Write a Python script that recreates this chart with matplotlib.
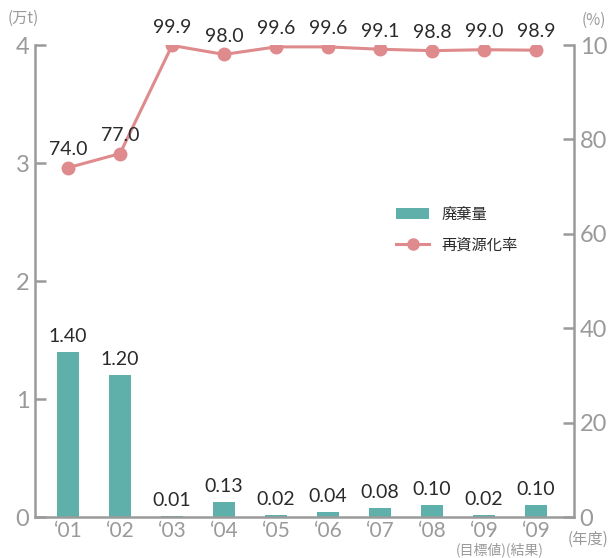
import matplotlib
matplotlib.use("Agg")
import matplotlib.pyplot as plt
from matplotlib.lines import Line2D
from matplotlib.patches import Patch

plt.rcParams['font.family'] = ['Lato', 'Noto Sans CJK JP', 'DejaVu Sans']

categories = ["\u201801", "\u201802", "\u201803", "\u201804", "\u201805",
              "\u201806", "\u201807", "\u201808", "\u201809", "\u201809"]
waste = [1.40, 1.20, 0.01, 0.13, 0.02, 0.04, 0.08, 0.10, 0.02, 0.10]
waste_labels = ["1.40", "1.20", "0.01", "0.13", "0.02", "0.04", "0.08", "0.10", "0.02", "0.10"]
recycle = [74.0, 77.0, 99.9, 98.0, 99.6, 99.6, 99.1, 98.8, 99.0, 98.9]
left_ticks = [0, 1, 2, 3, 4]
right_ticks = [0, 20, 40, 60, 80, 100]

teal = "#5fb0aa"
pink = "#df8a8c"
gray = "#9a9a9a"
dark = "#2a2a2a"
cjk = ['Noto Sans CJK JP', 'DejaVu Sans']

fig = plt.figure(figsize=(6.08, 5.58), dpi=100)
ax = fig.add_axes([35/608, 41/558, (574-35)/608, (517-45)/558])
ax2 = ax.twinx()

x = list(range(len(categories)))
ax.bar(x, waste, width=0.41, color=teal, zorder=2)
ax.set_xlim(-0.635, 9.73)
ax.set_ylim(0, 4)
ax.set_yticks(left_ticks)
ax.set_xticks(x)
ax.set_xticklabels(categories)

ax2.plot(x, recycle, color=pink, lw=2.2, marker='o', ms=9, zorder=3)
ax2.set_ylim(0, 100)
ax2.set_yticks(right_ticks)

for a in (ax, ax2):
    a.spines['top'].set_visible(False)
    for s in ('left', 'right', 'bottom'):
        a.spines[s].set_color(gray)
        a.spines[s].set_linewidth(1.8)
    a.tick_params(axis='y', direction='in', length=8, width=1.8, color=gray,
                  labelcolor=gray, labelsize=17, pad=4)
    a.tick_params(axis='x', length=0, labelcolor=gray, labelsize=15, pad=3)
ax.spines['right'].set_visible(False)
ax2.spines['left'].set_visible(False)
ax2.spines['bottom'].set_visible(False)

for xi, v, lab in zip(x, waste, waste_labels):
    ax.annotate(lab, (xi, v), xytext=(0, 5), textcoords='offset points',
                ha='center', va='bottom', fontsize=14, color=dark)
for xi, v in zip(x, recycle):
    ax2.annotate(f"{v:.1f}", (xi, v), xytext=(0, 7), textcoords='offset points',
                 ha='center', va='bottom', fontsize=14, color=dark)

fig.text(8/608, 1 - 18/558, "(万t)", color=gray, fontsize=11, va='center', ha='left', family=cjk)
fig.text(606/608, 1 - 20/558, "(%)", color=gray, fontsize=11, va='center', ha='right', family=cjk)
fig.text(608/608, 1 - 539/558, "(年度)", color=gray, fontsize=11, va='center', ha='right', family=cjk)
fig.text(500/608, 1 - 550/558, "(目標値)(結果)", color=gray, fontsize=10, va='center', ha='center', family=cjk)

handles = [Patch(facecolor=teal, edgecolor='none'),
           Line2D([0], [0], color=pink, lw=2.2, marker='o', ms=8)]
fig.legend(handles, ["廃棄量", "再資源化率"], loc='upper left',
           bbox_to_anchor=(382/608, 1 - 192/558), frameon=False,
           handlelength=2.2, labelspacing=0.9, labelcolor=dark, prop={'family': cjk, 'size': 11})

fig.savefig("out.png", dpi=100)
